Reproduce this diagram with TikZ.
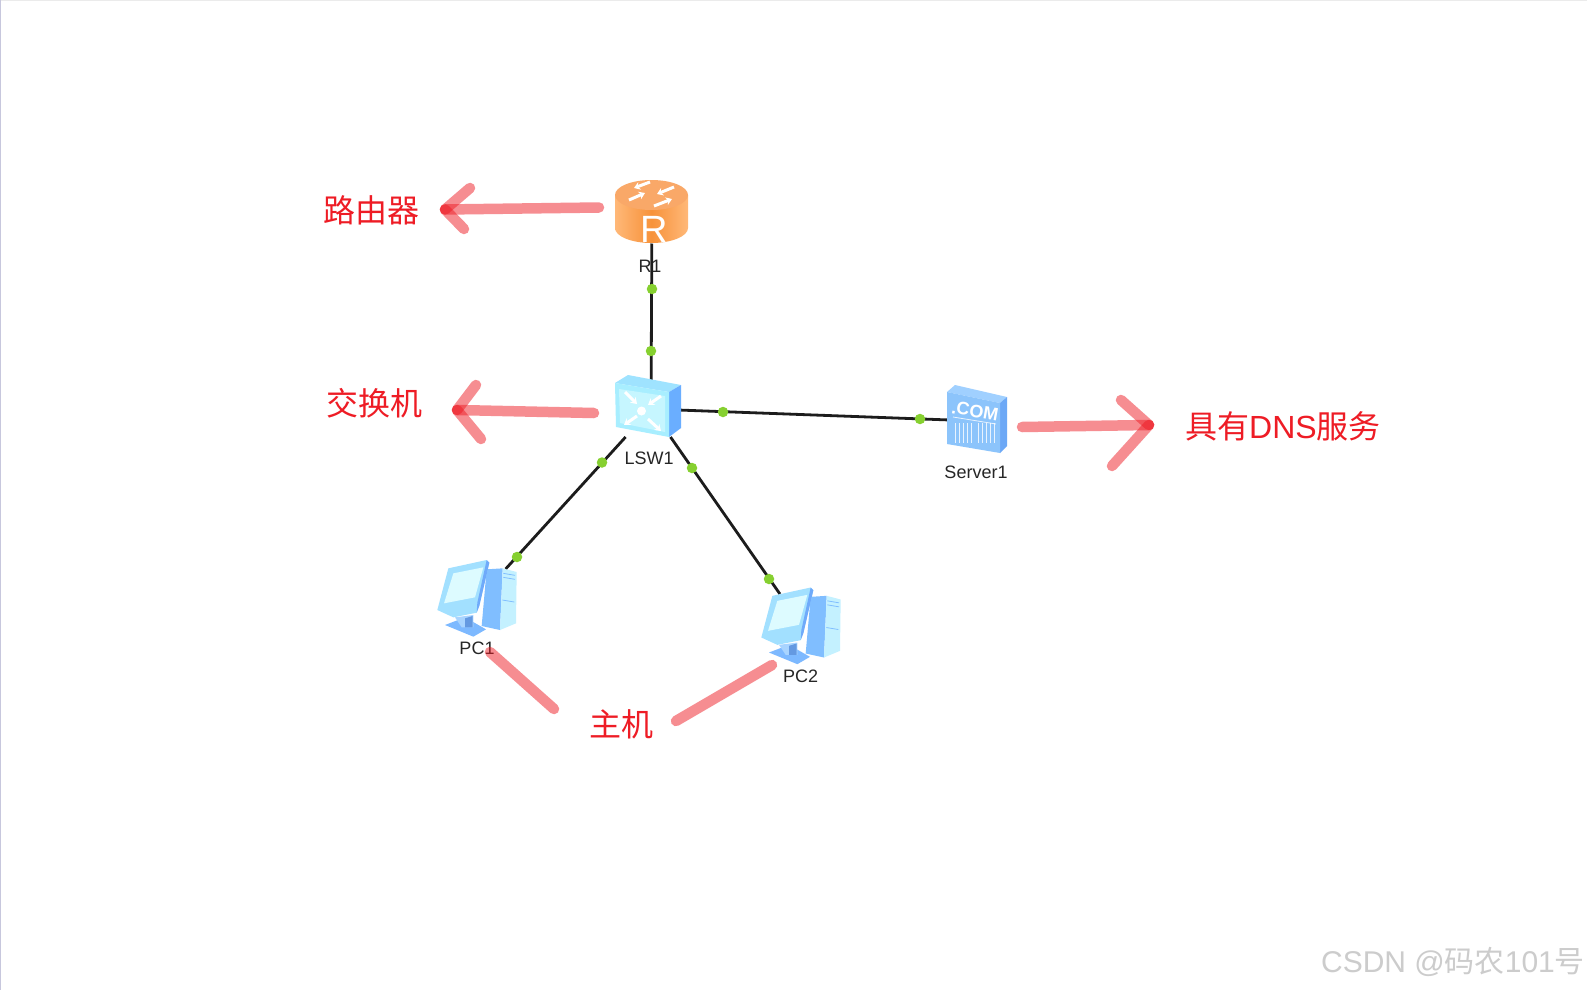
\documentclass[tikz,border=0pt]{standalone}
\usepackage{fontspec}
\setmainfont{Liberation Sans}
\newfontfamily\cjk{Noto Sans CJK SC}
\usetikzlibrary{arrows.meta}
\definecolor{redtxt}{HTML}{EE1C25}
\definecolor{wire}{HTML}{1C1C1C}
\definecolor{dotg}{HTML}{86D030}
\definecolor{pcbase}{HTML}{7DB9FF}
\definecolor{pcneck}{HTML}{A8D4FF}
\definecolor{pcside}{HTML}{80BEFF}
\definecolor{pcfront}{HTML}{C4F1FF}
\definecolor{pcmon}{HTML}{A2E0FF}
\definecolor{pcedge}{HTML}{6FAAFA}
\definecolor{pcscreen}{HTML}{DDFBFF}
\definecolor{orbody}{HTML}{F7923A}
\definecolor{oredge}{HTML}{FFB878}
\definecolor{ortop}{HTML}{F9A868}
\definecolor{swtop}{HTML}{9FE3FF}
\definecolor{swside}{HTML}{6AAEFF}
\definecolor{swfront}{HTML}{A8EEFF}
\definecolor{swinner}{HTML}{C6F6FF}
\definecolor{svtop}{HTML}{A0D0FF}
\definecolor{svside}{HTML}{6CA8F6}
\definecolor{svfront}{HTML}{8CC4FB}
\tikzset{
  x=1pt,y=-1pt,
  device/.style={inner sep=0pt,outer sep=0pt,minimum width=#1},
  wirel/.style={draw=wire,line width=2.8pt},
  portdot/.style={circle,fill=dotg,inner sep=0pt,minimum size=10.5pt},
  devlabel/.style={inner sep=0pt,text=black!85,font=\fontsize{18}{18}\selectfont},
  note/.style={inner sep=0pt,text=redtxt,font=\fontsize{32}{32}\selectfont\cjk},
  redmark/.style={draw=redtxt,opacity=0.5,line width=10.5pt,line cap=round},
  whitesym/.style={draw=white,line width=3pt,-{Stealth[length=6pt,width=8pt]}},
  pcicon/.pic={
    \fill[pcbase] (75,255)--(135,232)--(198,268)--(160,290)--cycle;
    \fill[pcneck] (105,232)--(160,225)--(160,262)--(125,262)--cycle;
    \fill[pcedge!90!black] (135,235)--(158,228)--(158,262)--(135,262)--cycle;
    % tower side and front
    \fill[pcside] (200,88)--(248,85)--(240,270)--(185,258)--cycle;
    \fill[pcfront] (248,85)--(290,96)--(288,250)--(240,270)--cycle;
    \draw[pcside,line width=0.8pt] (250,100)--(285,106) (250,112)--(285,118) (247,180)--(283,186);
    % monitor
    \fill[pcmon] (52,210)--(85,85)--(200,60)--(208,68)--(178,195)--(170,218)--(100,232)--cycle;
    \fill[pcedge] (200,60)--(208,68)--(178,198)--(170,218)--(172,188)--cycle;
    \fill[pcscreen] (72,190)--(100,100)--(190,82)--(165,172)--cycle;
  },
}
\begin{document}
\begin{tikzpicture}
\useasboundingbox (0,0) rectangle (1587,990);
\fill[white] (0,0) rectangle (1587,990);
\fill[black!8] (0,0) rectangle (1587,1);
\fill[blue!40!black!22] (0,0) rectangle (1,990);

% invisible device boxes
\node[device=73pt,minimum height=63pt] (r1) at (652,212) {};
\node[device=60pt,minimum height=56pt] (lsw) at (651,409) {};
\node[device=60pt,minimum height=66pt] (srv) at (977,421) {};
\node[device=60pt,minimum height=52pt] (pc1) at (482,595) {};
\node[device=60pt,minimum height=52pt] (pc2) at (798,620) {};

% wires and ports
\draw[wirel] (r1)--(lsw);
\draw[wirel] (lsw)--(srv);
\draw[wirel] (lsw)--(pc1);
\draw[wirel] (lsw)--(pc2);
\node[portdot] (d1) at (652,289) {};
\node[portdot] (d2) at (651,351) {};
\node[portdot] (d3) at (723,412) {};
\node[portdot] (d4) at (920,419) {};
\node[portdot] (d5) at (602,462.5) {};
\node[portdot] (d6) at (517,557) {};
\node[portdot] (d7) at (692,468) {};
\node[portdot] (d8) at (769,579) {};

% router icon
\shade[left color=oredge,right color=oredge,middle color=orbody]
  (615,195) -- (615,228) arc[start angle=180,end angle=0,x radius=36.5,y radius=15] -- (688,195) -- cycle;
\fill[ortop] (651.5,195) ellipse[x radius=36.5,y radius=15];
\draw[whitesym] (629,200)--(645,193);
\draw[whitesym] (674,187)--(657,194);
\draw[whitesym] (650,182)--(634,188);
\draw[whitesym] (654,206)--(672,199);
\node[inner sep=0pt,text=white,font=\fontsize{38}{38}\selectfont] (rr) at (654,229) {R};

% switch icon
\fill[swtop] (615,383)--(628,375)--(681,385)--(669,392)--cycle;
\fill[swside] (669,392)--(681,385)--(681,428)--(669,437)--cycle;
\fill[swfront] (615,383)--(669,392)--(669,437)--(616,427)--cycle;
\fill[swinner] (619,389)--(665,396)--(665,432)--(620,423)--cycle;
\fill[white] (641.5,411) circle[radius=4.5pt];
\draw[whitesym] (625,392)--(637,404);
\draw[whitesym] (661,396)--(648,405);
\draw[whitesym] (637,416)--(624,425);
\draw[whitesym] (648,419)--(661,431);

% server icon
\fill[svtop] (947,392)--(955,385)--(1007,397)--(1000,403)--cycle;
\fill[svside] (1000,403)--(1007,397)--(1007,446)--(1000,453)--cycle;
\fill[svfront] (947,392)--(1000,403)--(1000,453)--(947,444)--cycle;
\node[inner sep=0pt,text=white,rotate=-10,font=\fontsize{18}{18}\selectfont\bfseries] (com) at (975,411) {.COM};
\draw[white,line width=0.8pt,opacity=.8] (953,417)--(996,424);
\foreach \xx in {955,959,963,967,971,978,982,986,990,994}
  \draw[white,line width=0.8pt,opacity=.8] (\xx,423)--(\xx,443);

% PCs
\pic[scale=1/3,transform shape] at (420,540) {pcicon};
\pic[scale=1/3,transform shape] at (744,567.5) {pcicon};

% device labels
\node[devlabel] (lr1) at (650,266) {R1};
\node[devlabel] (llsw) at (649,458) {LSW1};
\node[devlabel] (lsrv) at (976,472) {Server1};
\node[devlabel] (lpc1) at (477,648) {PC1};
\node[devlabel] (lpc2) at (800.5,676) {PC2};

% red notes
\node[note] (n1) at (371,210) {路由器};
\node[note] (n2) at (374,403) {交换机};
\node[note] (n3) at (1283,426) {具有{\fontspec{Liberation Sans}DNS}服务};
\node[note] (n4) at (621.5,724) {主机};

% red marks
\coordinate (a1s) at (599,207.5); \coordinate (a1t) at (445,209.5);
\coordinate (a1u) at (470,188);   \coordinate (a1v) at (464,229);
\coordinate (a2s) at (594,413);   \coordinate (a2t) at (457,410);
\coordinate (a2u) at (476,385);   \coordinate (a2v) at (481,439);
\coordinate (a3s) at (1022,427);  \coordinate (a3t) at (1149,425);
\coordinate (a3u) at (1121,400);  \coordinate (a3v) at (1112,466);
\coordinate (a4s) at (490,652);   \coordinate (a4t) at (554,709);
\coordinate (a5s) at (772,665);   \coordinate (a5t) at (676,721);
\draw[redmark] (a1s)--(a1t);
\draw[redmark] (a1u)--(a1t);
\draw[redmark] (a1t)--(a1v);
\draw[redmark] (a2s)--(a2t);
\draw[redmark] (a2u)--(a2t);
\draw[redmark] (a2t)--(a2v);
\draw[redmark] (a3s)--(a3t);
\draw[redmark] (a3u)--(a3t);
\draw[redmark] (a3t)--(a3v);
\draw[redmark] (a4s)--(a4t);
\draw[redmark] (a5s)--(a5t);

% watermark
\node[inner sep=0pt,text=black!20,font=\fontsize{30}{30}\selectfont] (wm) at (1453,962) {CSDN @{\cjk 码农}101{\cjk 号}};
\end{tikzpicture}
\end{document}
